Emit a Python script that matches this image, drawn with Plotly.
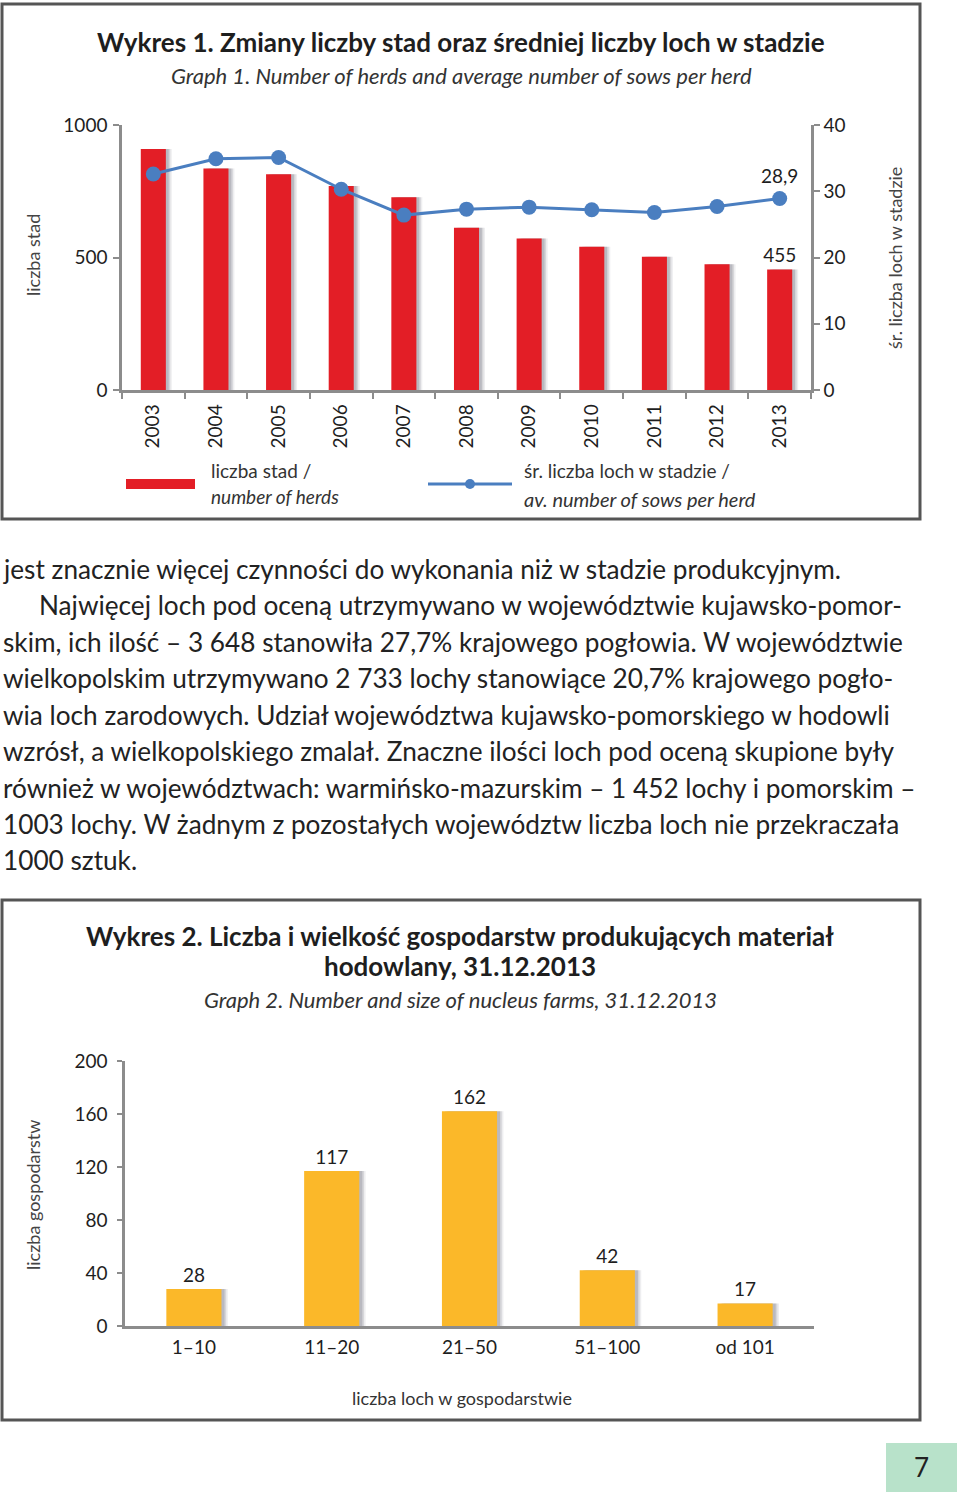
import plotly.graph_objects as go

W, H = 960, 1502
FONT = "Lato"

# ---------------- data ----------------
years = ["2003", "2004", "2005", "2006", "2007", "2008", "2009", "2010", "2011", "2012", "2013"]
herds = [909, 836, 814, 770, 727, 612, 572, 541, 503, 475, 455]
sows_per_herd = [32.6, 34.9, 35.1, 30.3, 26.4, 27.3, 27.6, 27.2, 26.8, 27.7, 28.9]

size_classes = ["1–10", "11–20", "21–50", "51–100", "od 101"]
farms = [28, 117, 162, 42, 17]

y1_ticks = [0, 500, 1000]
y2_ticks = [0, 10, 20, 30, 40]
y3_ticks = [0, 40, 80, 120, 160, 200]

paragraph = [
    "jest znacznie więcej czynności do wykonania niż w stadzie produkcyjnym.",
    "Najwięcej loch pod oceną utrzymywano w województwie kujawsko-pomor-",
    "skim, ich ilość – 3 648 stanowiła 27,7% krajowego pogłowia. W województwie",
    "wielkopolskim utrzymywano 2 733 lochy stanowiące 20,7% krajowego pogło-",
    "wia loch zarodowych. Udział województwa kujawsko-pomorskiego w hodowli",
    "wzrósł, a wielkopolskiego zmalał. Znaczne ilości loch pod oceną skupione były",
    "również w województwach: warmińsko-mazurskim – 1 452 lochy i pomorskim –",
    "1003 lochy. W żadnym z pozostałych województw liczba loch nie przekraczała",
    "1000 sztuk.",
]

# ---------------- helpers ----------------
def px(x):
    return x / W

def py(y):
    return 1 - y / H

RED = "#E31E26"
BLUE = "#4A7EC0"
YELLOW = "#FBB829"
AXIS = "#8C8C8C"
TXT = "#1E1E1E"

herd_labels = [""] * (len(herds) - 1) + [str(herds[-1])]
sow_labels = [""] * (len(sows_per_herd) - 1) + [f"{sows_per_herd[-1]:.1f}".replace(".", ",")]

fig = go.Figure()

# soft drop shadows (same data, offset slightly right)
for k, a in [(1, 0.16), (2, 0.12), (3, 0.08)]:
    fig.add_trace(go.Bar(
        x=years, y=herds, xaxis="x", yaxis="y", width=0.4,
        offset=-0.2 + 0.025 * k + 0.02,
        marker=dict(color=f"rgba(40,40,60,{a})", line=dict(width=0)),
        hoverinfo="skip", showlegend=False,
    ))
    fig.add_trace(go.Bar(
        x=size_classes, y=farms, xaxis="x3", yaxis="y3", width=0.4,
        offset=-0.2 + 0.012 * k + 0.01,
        marker=dict(color=f"rgba(40,40,60,{a})", line=dict(width=0)),
        hoverinfo="skip", showlegend=False,
    ))

fig.add_trace(go.Bar(
    x=years, y=herds, xaxis="x", yaxis="y",
    marker=dict(color=RED, line=dict(width=0)), width=0.4, offset=-0.2,
    text=herd_labels, textposition="outside", cliponaxis=False, constraintext="none",
    textfont=dict(family=FONT, size=19, color=TXT),
    showlegend=False,
))
fig.add_trace(go.Scatter(
    x=years, y=sows_per_herd, xaxis="x", yaxis="y2",
    mode="lines+markers+text",
    line=dict(color=BLUE, width=3),
    marker=dict(color=BLUE, size=15),
    text=sow_labels, textposition="top center", cliponaxis=False,
    textfont=dict(family=FONT, size=19, color=TXT),
    showlegend=False,
))
fig.add_trace(go.Bar(
    x=size_classes, y=farms, xaxis="x3", yaxis="y3",
    marker=dict(color=YELLOW, line=dict(width=0)), width=0.4, offset=-0.2,
    text=[str(v) for v in farms], textposition="outside", cliponaxis=False, constraintext="none",
    textfont=dict(family=FONT, size=19, color=TXT),
    showlegend=False,
))

axis_common = dict(showgrid=False, zeroline=False, showline=True,
                   linecolor=AXIS, linewidth=2.5, tickcolor=AXIS, tickwidth=2,
                   tickfont=dict(family=FONT, size=19, color=TXT), fixedrange=True)

fig.update_layout(
    width=W, height=H,
    margin=dict(l=0, r=0, t=0, b=0, pad=0, autoexpand=False),
    paper_bgcolor="white", plot_bgcolor="rgba(0,0,0,0)",
    font=dict(family=FONT, color=TXT),
    showlegend=False,
    barmode="overlay",
    xaxis=dict(domain=[px(122), px(811)], anchor="y", type="category",
               categoryorder="array", categoryarray=years, range=[-0.5, 10.5],
               ticks="outside", tickson="boundaries", ticklen=6, tickangle=-90,
               ticklabelstandoff=4, automargin=False, **axis_common),
    yaxis=dict(domain=[py(390), py(125)], anchor="x", range=[0, 1000],
               tickvals=y1_ticks, ticks="outside", ticklen=6,
               ticklabelstandoff=2, automargin=False, **axis_common),
    yaxis2=dict(domain=[py(390), py(125)], anchor="x", overlaying="y", side="right",
                range=[0, 40], tickvals=y2_ticks, ticks="outside", ticklen=6,
                ticklabelstandoff=0, automargin=False, **axis_common),
    xaxis3=dict(domain=[px(125), px(814)], anchor="y3", type="category",
                categoryorder="array", categoryarray=size_classes, range=[-0.5, 4.5],
                ticks="", ticklabelstandoff=2, automargin=False, **axis_common),
    yaxis3=dict(domain=[py(1326), py(1061)], anchor="x3", range=[0, 200],
                tickvals=y3_ticks, ticks="outside", ticklen=5, ticklabelstandoff=6,
                automargin=False, **axis_common),
)

shapes = [
    # frames
    dict(type="rect", xref="paper", yref="paper", x0=px(2), x1=px(920), y0=py(4), y1=py(519),
         line=dict(color="#555555", width=3), fillcolor="rgba(0,0,0,0)", layer="below"),
    dict(type="rect", xref="paper", yref="paper", x0=px(2), x1=px(920), y0=py(900), y1=py(1420),
         line=dict(color="#555555", width=3), fillcolor="rgba(0,0,0,0)", layer="below"),
    # legend swatches
    dict(type="rect", xref="paper", yref="paper", x0=px(126), x1=px(195), y0=py(489), y1=py(479),
         line=dict(width=0), fillcolor=RED),
    dict(type="line", xref="paper", yref="paper", x0=px(428), x1=px(512), y0=py(484), y1=py(484),
         line=dict(color=BLUE, width=3)),
    dict(type="circle", xref="paper", yref="paper", x0=px(465), x1=px(475), y0=py(489), y1=py(479),
         line=dict(width=0), fillcolor=BLUE),
    # page number box
    dict(type="rect", xref="paper", yref="paper", x0=px(886), x1=px(957), y0=py(1492), y1=py(1443),
         line=dict(width=0), fillcolor="#B8E2CA"),
]
fig.update_layout(shapes=shapes)

def ann(text, x, y, size, xanchor="center", color=TXT, angle=0, yanchor="middle"):
    fig.add_annotation(text=text, x=px(x), y=py(y), xref="paper", yref="paper",
                       xanchor=xanchor, yanchor=yanchor, showarrow=False, textangle=angle,
                       font=dict(family=FONT, size=size, color=color))

# chart 1 texts
ann("<b>Wykres 1. Zmiany liczby stad oraz średniej liczby loch w stadzie</b>", 461, 42, 26)
ann("<i>Graph 1. Number of herds and average number of sows per herd</i>", 461, 76, 22, color="#333333")
ann("liczba stad", 33, 255, 18, color="#444444", angle=-90)
ann("śr. liczba loch w stadzie", 895, 258, 18, color="#444444", angle=-90)
ann("liczba stad /", 209, 471, 19, xanchor="left", color="#333333")
ann("<i>number of herds</i>", 209, 496, 19, xanchor="left", color="#333333")
ann("śr. liczba loch w stadzie /", 522, 471, 19, xanchor="left", color="#333333")
ann("<i>av. number of sows per herd</i>", 522, 499, 20, xanchor="left", color="#333333")

# paragraph
line_y = [569, 605, 642, 678, 715, 751, 788, 824, 860]
for i, (t, yy) in enumerate(zip(paragraph, line_y)):
    ann(t, 37 if i == 1 else 1, yy, 26.2, xanchor="left", color="#222222")

# chart 2 texts
ann("<b>Wykres 2. Liczba i wielkość gospodarstw produkujących materiał</b>", 460, 936, 26)
ann("<b>hodowlany, 31.12.2013</b>", 460, 966, 26)
ann("<i>Graph 2. Number and size of nucleus farms, 31.12.2013</i>", 460, 999, 22, color="#333333")
ann("liczba gospodarstw", 33, 1195, 18, color="#444444", angle=-90)
ann("liczba loch w gospodarstwie", 462, 1398, 18, color="#333333")

# page number
ann("7", 921, 1467, 26, color="#222222")

fig.write_html("out.html")
